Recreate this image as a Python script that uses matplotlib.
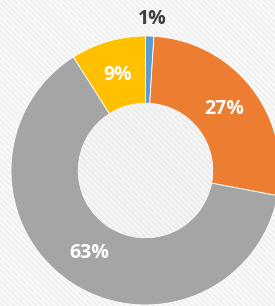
import matplotlib
matplotlib.use("Agg")
import matplotlib.pyplot as plt
import matplotlib.patches as mpatches
import numpy as np

categories = ["A", "B", "C", "D"]
values = [1, 27, 63, 9]
colors = ["#5b9bd5", "#ed7d31", "#a5a5a5", "#ffc000"]

plt.rcParams["hatch.linewidth"] = 1.2

W, H = 275, 306
fig = plt.figure(figsize=(W / 100, H / 100), dpi=100)
fig.patch.set_facecolor("white")
ax = fig.add_axes([0, 0, 1, 1])

cx, cy, R = 145.5, H - 170.5, 134.5
wedges, texts, autotexts = ax.pie(
    values, colors=colors, startangle=90, counterclock=False,
    center=(cx, cy), radius=R, autopct="%1.0f%%", pctdistance=0.74,
    wedgeprops=dict(width=R * 0.5, edgecolor="white", linewidth=0.6),
    textprops=dict(color="white", fontsize=14, fontweight="bold", family="Open Sans"),
    frame=True,
)
ax.set_xlim(0, W)
ax.set_ylim(0, H)
ax.set_aspect("equal")
ax.axis("off")

# subtle diagonal hatched background
bg = mpatches.Rectangle((0, 0), W, H, facecolor="#f0f0f0", edgecolor="#fcfcfc",
                        hatch="\\\\\\\\\\\\", linewidth=0, zorder=0)
ax.add_patch(bg)
hole = mpatches.Circle((cx, cy), R * 0.5, facecolor="#ececec", edgecolor="#f8f8f8",
                       hatch="\\\\\\\\\\\\", linewidth=0, zorder=3)
ax.add_patch(hole)

for w, t, v in zip(wedges, autotexts, values):
    if v < 3:
        ang = np.deg2rad((w.theta1 + w.theta2) / 2)
        t.set_position((cx + 1.13 * R * np.cos(ang) + 2, cy + 1.13 * R * np.sin(ang)))
        t.set_color("#404040")
    t.set_zorder(5)

fig.savefig("out.png", dpi=100)
